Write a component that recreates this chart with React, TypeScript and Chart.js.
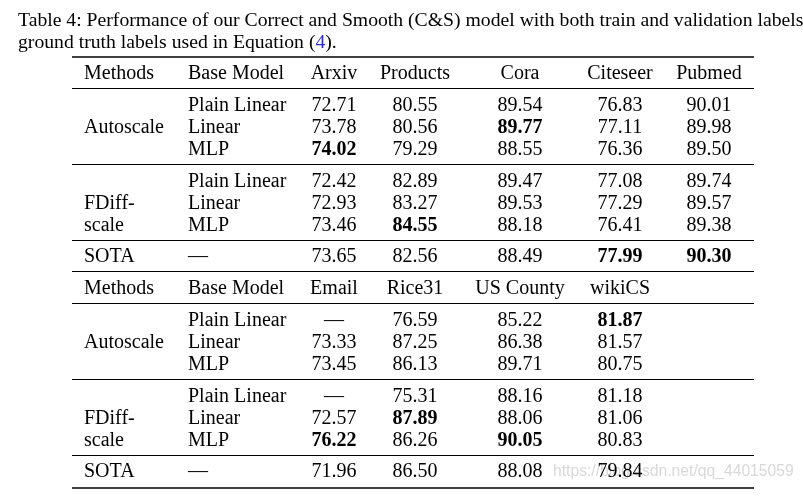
import React, { useEffect, useRef } from "react";
import { Chart, registerables } from "chart.js";

Chart.register(...registerables);

// ---------- content ----------
const captionLine1 =
  "Table 4: Performance of our Correct and Smooth (C&S) model with both train and validation labels";
const captionLine2Start = "ground truth labels used in Equation (";
const captionRef = "4";
const captionLine2End = ").";
const headerFixed = ["Methods", "Base Model"];
const datasetsTop = ["Arxiv", "Products", "Cora", "Citeseer", "Pubmed"];
const datasetsBottom = ["Email", "Rice31", "US County", "wikiCS"];
const baseModels = ["Plain Linear", "Linear", "MLP"];
const sotaBaseModel = "—";

const autoscaleTop = [
  [72.71, 80.55, 89.54, 76.83, 90.01],
  [73.78, 80.56, 89.77, 77.11, 89.98],
  [74.02, 79.29, 88.55, 76.36, 89.5],
];
const fdiffTop = [
  [72.42, 82.89, 89.47, 77.08, 89.74],
  [72.93, 83.27, 89.53, 77.29, 89.57],
  [73.46, 84.55, 88.18, 76.41, 89.38],
];
const sotaTop = [73.65, 82.56, 88.49, 77.99, 90.3];

const autoscaleBottom = [
  [null, 76.59, 85.22, 81.87],
  [73.33, 87.25, 86.38, 81.57],
  [73.45, 86.13, 89.71, 80.75],
];
const fdiffBottom = [
  [null, 75.31, 88.16, 81.18],
  [72.57, 87.89, 88.06, 81.06],
  [76.22, 86.26, 90.05, 80.83],
];
const sotaBottom = [71.96, 86.5, 88.08, 79.84];

const watermark = "https://blog.csdn.net/qq_44015059";

// ---------- layout (scale units) ----------
const W = 803;
const H = 496;
const CAPTION_X = 18;
const CAPTION_Y = [26, 48];
const METHOD_X = 84;
const BASE_X = 188;
const NUM_X = [334, 415, 520, 620, 709];
const TABLE_LEFT = 72;
const TABLE_RIGHT = 754;
const THICK_RULES = [57, 488];
const THIN_RULES = [88, 164, 240, 271, 303, 379, 455];
const HEADER_Y = [79, 294];
const BLOCK_Y = [
  [111, 133, 155],
  [187, 209, 231],
  [326, 348, 370],
  [402, 424, 446],
];
const SOTA_Y = [262, 477];

const FONT = "'Liberation Serif', 'Times New Roman', serif";

type Cell = { x: number; y: number; text: string; bold?: boolean; align: CanvasTextAlign };

function fmt(v: number | null) {
  return v === null ? "—" : v.toFixed(2);
}

function buildCells(): Cell[] {
  const cells: Cell[] = [];
  const groups = [
    { names: datasetsTop, auto: autoscaleTop, fdiff: fdiffTop, sota: sotaTop, hy: HEADER_Y[0], b1: BLOCK_Y[0], b2: BLOCK_Y[1], sy: SOTA_Y[0] },
    { names: datasetsBottom, auto: autoscaleBottom, fdiff: fdiffBottom, sota: sotaBottom, hy: HEADER_Y[1], b1: BLOCK_Y[2], b2: BLOCK_Y[3], sy: SOTA_Y[1] },
  ];
  for (const g of groups) {
    cells.push({ x: METHOD_X, y: g.hy, text: headerFixed[0], align: "left" });
    cells.push({ x: BASE_X, y: g.hy, text: headerFixed[1], align: "left" });
    g.names.forEach((n, i) => cells.push({ x: NUM_X[i], y: g.hy, text: n, align: "center" }));
    // best per column is set in bold
    const best = g.names.map((_, c) => {
      const vals: number[] = [];
      g.auto.forEach((r) => r[c] !== null && vals.push(r[c] as number));
      g.fdiff.forEach((r) => r[c] !== null && vals.push(r[c] as number));
      vals.push(g.sota[c]);
      return Math.max(...vals);
    });
    cells.push({ x: METHOD_X, y: g.b1[1], text: "Autoscale", align: "left" });
    cells.push({ x: METHOD_X, y: g.b2[1], text: "FDiff-", align: "left" });
    cells.push({ x: METHOD_X, y: g.b2[2], text: "scale", align: "left" });
    cells.push({ x: METHOD_X, y: g.sy, text: "SOTA", align: "left" });
    [g.auto, g.fdiff].forEach((block, bi) => {
      const ys = bi === 0 ? g.b1 : g.b2;
      block.forEach((row, ri) => {
        cells.push({ x: BASE_X, y: ys[ri], text: baseModels[ri], align: "left" });
        row.forEach((v, c) =>
          cells.push({ x: NUM_X[c], y: ys[ri], text: fmt(v), bold: v !== null && v === best[c], align: "center" })
        );
      });
    });
    cells.push({ x: BASE_X, y: g.sy, text: sotaBaseModel, align: "left" });
    g.sota.forEach((v, c) => cells.push({ x: NUM_X[c], y: g.sy, text: fmt(v), bold: v === best[c], align: "center" }));
  }
  return cells;
}

export default function App() {
  const ref = useRef<HTMLCanvasElement | null>(null);
  useEffect(() => {
    if (!ref.current) return;
    const cells = buildCells();
    const tablePlugin = {
      id: "tablePlugin",
      afterDatasetsDraw(chart: any) {
        const ctx: CanvasRenderingContext2D = chart.ctx;
        const xs = chart.scales.x;
        const ys = chart.scales.y;
        ctx.save();
        // watermark (behind text)
        ctx.font = "15.7px 'Liberation Sans', Arial, sans-serif";
        ctx.fillStyle = "#d9d9d9";
        ctx.textAlign = "left";
        ctx.textBaseline = "alphabetic";
        ctx.fillText(watermark, xs.getPixelForValue(553), ys.getPixelForValue(476));

        // caption
        ctx.fillStyle = "#000";
        ctx.font = `19.7px ${FONT}`;
        ctx.fillText(captionLine1, xs.getPixelForValue(CAPTION_X), ys.getPixelForValue(CAPTION_Y[0]));
        let cx = xs.getPixelForValue(CAPTION_X);
        const cy = ys.getPixelForValue(CAPTION_Y[1]);
        ctx.fillText(captionLine2Start, cx, cy);
        cx += ctx.measureText(captionLine2Start).width;
        ctx.fillStyle = "#2b2bd0";
        ctx.fillText(captionRef, cx, cy);
        cx += ctx.measureText(captionRef).width;
        ctx.fillStyle = "#000";
        ctx.fillText(captionLine2End, cx, cy);

        // rules
        ctx.strokeStyle = "#000";
        const x0 = xs.getPixelForValue(TABLE_LEFT);
        const x1 = xs.getPixelForValue(TABLE_RIGHT);
        THICK_RULES.forEach((y) => {
          ctx.lineWidth = 1.6;
          ctx.beginPath();
          const py = ys.getPixelForValue(y);
          ctx.moveTo(x0, py);
          ctx.lineTo(x1, py);
          ctx.stroke();
        });
        THIN_RULES.forEach((y) => {
          ctx.lineWidth = 1;
          ctx.beginPath();
          const py = Math.round(ys.getPixelForValue(y)) + 0.5;
          ctx.moveTo(x0, py);
          ctx.lineTo(x1, py);
          ctx.stroke();
        });

        // cells, placed at the dataset element positions
        const meta = chart.getDatasetMeta(0);
        meta.data.forEach((el: any, i: number) => {
          const c = cells[i];
          ctx.font = `${c.bold ? "bold " : ""}20px ${FONT}`;
          ctx.fillStyle = "#000";
          ctx.textAlign = c.align;
          ctx.fillText(c.text, el.x, el.y);
        });
        ctx.restore();
      },
    };
    const chart = new Chart(ref.current, {
      type: "scatter",
      data: {
        datasets: [
          {
            data: cells.map((c) => ({ x: c.x, y: c.y })),
            pointRadius: 0,
            pointHoverRadius: 0,
          },
        ],
      },
      options: {
        animation: false,
        responsive: false,
        devicePixelRatio: 1,
        events: [],
        layout: { padding: 0 },
        plugins: { legend: { display: false }, tooltip: { enabled: false } },
        scales: {
          x: { type: "linear", min: 0, max: W, display: false },
          y: { type: "linear", min: 0, max: H, reverse: true, display: false },
        },
      },
      plugins: [tablePlugin],
    });
    return () => chart.destroy();
  }, []);
  return (
    <div style={{ position: "absolute", left: 0, top: 0, width: W, height: H, background: "#fff" }}>
      <canvas ref={ref} width={W} height={H} style={{ display: "block" }} />
    </div>
  );
}
